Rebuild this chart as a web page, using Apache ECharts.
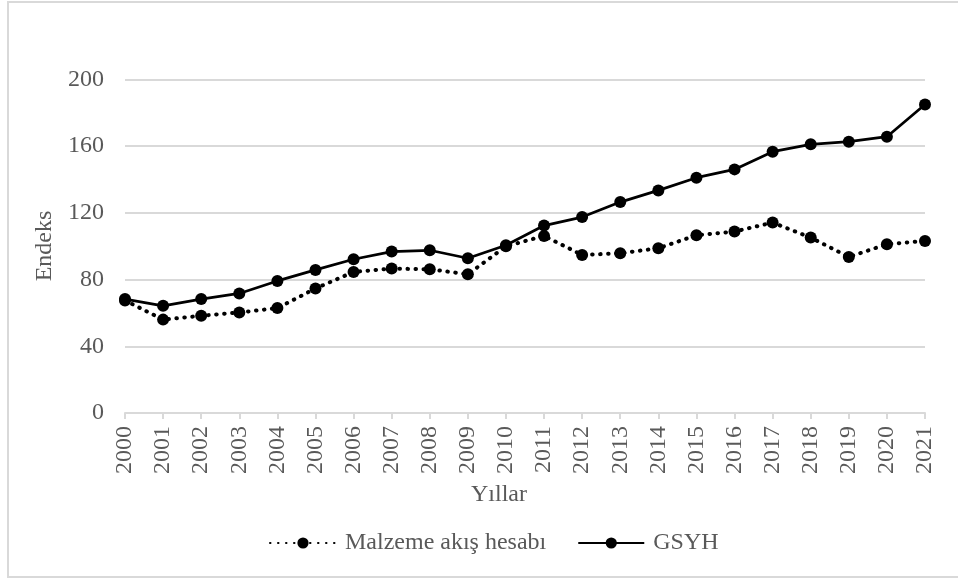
<!DOCTYPE html>
<html>
<head>
<meta charset="utf-8">
<script src="https://cdn.jsdelivr.net/npm/echarts@6/dist/echarts.min.js"></script>
<style>html,body{margin:0;padding:0;background:#fff}#c{width:958px;height:580px}</style>
</head>
<body>
<div id="c"></div>
<script>
var years = ['2000','2001','2002','2003','2004','2005','2006','2007','2008','2009','2010','2011','2012','2013','2014','2015','2016','2017','2018','2019','2020','2021'];
var malzeme = [67.5, 56, 58.3, 60.3, 62.9, 74.7, 84.6, 86.6, 86.2, 83.2, 100, 106.2, 94.8, 95.8, 98.8, 106.6, 108.8, 114.2, 105.2, 93.6, 101.2, 103.2];
var gsyh = [68.3, 64.3, 68.3, 71.7, 79.2, 85.8, 92.2, 96.8, 97.6, 92.8, 100.6, 112.4, 117.5, 126.5, 133.5, 141.1, 146.1, 156.7, 161.1, 162.7, 165.7, 185];
var yTicks = [0, 40, 80, 120, 160, 200];

var FONT = '"Liberation Serif", "Times New Roman", serif';
var TXT = '#595959';
var FS = 24;
var chart = echarts.init(document.getElementById('c'));
chart.setOption({
  animation: false,
  backgroundColor: '#fff',
  textStyle: {fontFamily: FONT},
  grid: {left: 125, right: 33, top: 79.5, bottom: 167, containLabel: false},
  graphic: [
    {type: 'rect', shape: {x: 8, y: 2, width: 960, height: 575}, style: {fill: 'none', stroke: '#d9d9d9', lineWidth: 2}, silent: true},
    {type: 'text', x: 499, y: 495, style: {text: 'Yıllar', font: FS + 'px ' + FONT, fill: TXT, textAlign: 'center', textVerticalAlign: 'middle'}},
    {type: 'text', x: 45, y: 246, rotation: Math.PI / 2, style: {text: 'Endeks', font: FS + 'px ' + FONT, fill: TXT, textAlign: 'center', textVerticalAlign: 'middle'}}
  ],
  legend: {
    left: 264, top: 526,
    itemWidth: 66, itemHeight: 14, itemGap: 31,
    textStyle: {fontFamily: FONT, fontSize: FS, color: TXT, padding: [0, 0, 0, 4]},
    data: ['Malzeme akış hesabı', 'GSYH']
  },
  xAxis: {
    type: 'category', data: years, boundaryGap: false,
    axisLine: {lineStyle: {color: '#d9d9d9', width: 2}},
    axisTick: {show: true, length: 6, lineStyle: {color: '#d9d9d9', width: 2}},
    axisLabel: {rotate: 90, margin: 13, fontFamily: FONT, fontSize: FS, color: TXT, interval: 0},
    splitLine: {show: false}
  },
  yAxis: {
    type: 'value', min: yTicks[0], max: yTicks[yTicks.length - 1], interval: 40,
    axisLine: {show: false}, axisTick: {show: false},
    axisLabel: {margin: 21, fontFamily: FONT, fontSize: FS, color: TXT},
    splitLine: {lineStyle: {color: '#d9d9d9', width: 2}}
  },
  series: [
    {
      name: 'Malzeme akış hesabı', type: 'line', data: malzeme,
      symbol: 'circle', symbolSize: 12,
      itemStyle: {color: '#000'},
      lineStyle: {color: '#000', width: 4, type: [0.5, 7.5], cap: 'round'},
      z: 2
    },
    {
      name: 'GSYH', type: 'line', data: gsyh,
      symbol: 'circle', symbolSize: 12,
      itemStyle: {color: '#000'},
      lineStyle: {color: '#000', width: 2.75, type: 'solid'},
      z: 3
    }
  ]
});
</script>
</body>
</html>
